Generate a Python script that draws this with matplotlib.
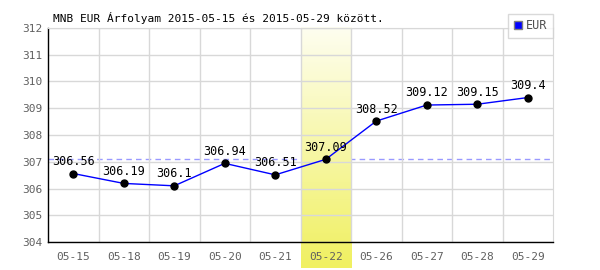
import numpy as np
import matplotlib.pyplot as plt
import matplotlib.colors as mcolors
from matplotlib.lines import Line2D

# Chart data
dates = ["05-15", "05-18", "05-19", "05-20", "05-21", "05-22", "05-26", "05-27", "05-28", "05-29"]
rates = [306.56, 306.19, 306.1, 306.94, 306.51, 307.09, 308.52, 309.12, 309.15, 309.4]
highlight_idx = 5
ref_rate = 307.09
yticks = [304, 305, 306, 307, 308, 309, 310, 311, 312]

plt.rcParams['font.family'] = ['DejaVu Sans Mono']

fig = plt.figure(figsize=(6, 2.7), dpi=100)
ax = fig.add_axes([0.08, 0.1037, 0.8417, 0.7926])

x = np.arange(len(dates))
ax.set_xlim(-0.5, len(dates) - 0.5)
ax.set_ylim(yticks[0], yticks[-1])

# grid
ax.set_yticks(yticks)
ax.set_xticks(x)
ax.set_xticks(x[:-1] + 0.5, minor=True)
ax.grid(axis='y', which='major', color='#d8d8d8', lw=1, zorder=0)
ax.grid(axis='x', which='minor', color='#d8d8d8', lw=1, zorder=0)
ax.tick_params(which='both', length=0)
ax.tick_params(axis='both', labelsize=8, labelcolor='#606060')
ax.tick_params(axis='y', pad=4)
ax.tick_params(axis='x', pad=7)
ax.set_xticklabels(dates)

for s in ['top', 'right']:
    ax.spines[s].set_color('#d8d8d8')
for s in ['left', 'bottom']:
    ax.spines[s].set_color('black')
    ax.spines[s].set_linewidth(1)

# highlighted day band (gradient, extends below axis)
cmap = mcolors.LinearSegmentedColormap.from_list('hl', ['#fefef0', '#f0f060'])
grad = np.linspace(0, 1, 256).reshape(-1, 1)
ax.imshow(grad, cmap=cmap, aspect='auto', origin='upper',
          extent=(highlight_idx - 0.5, highlight_idx + 0.5, -0.122, 1.0),
          transform=ax.get_xaxis_transform(), clip_on=False, zorder=1)

# reference dashed line
ax.axhline(ref_rate, color='#9999ff', lw=1, ls=(0, (4, 3)), zorder=0.5)

ax.plot(x, rates, color='blue', lw=1, zorder=3)
ax.plot(x, rates, 'o', color='black', ms=5, zorder=4)

for xi, v in zip(x, rates):
    ax.annotate(f"{v:g}", (xi, v), xytext=(0, 4), textcoords='offset points',
                ha='center', va='bottom', fontsize=8.5, color='black', zorder=5)

fig.text(0.088, 0.935, "MNB EUR Árfolyam 2015-05-15 és 2015-05-29 között.",
         fontsize=8, color='black', va='center')

# legend
h = Line2D([], [], marker='s', ls='none', color='blue', markeredgecolor='#808080', ms=6)
fig.legend([h], ['EUR'], loc='upper right', bbox_to_anchor=(0.921, 0.948),
           fontsize=8.5, frameon=True, fancybox=False, edgecolor='#d0d0d0',
           handlelength=0.8, handletextpad=0.3, borderpad=0.45, labelcolor='#505050',
           borderaxespad=0)

fig.savefig('out.png', dpi=100)
